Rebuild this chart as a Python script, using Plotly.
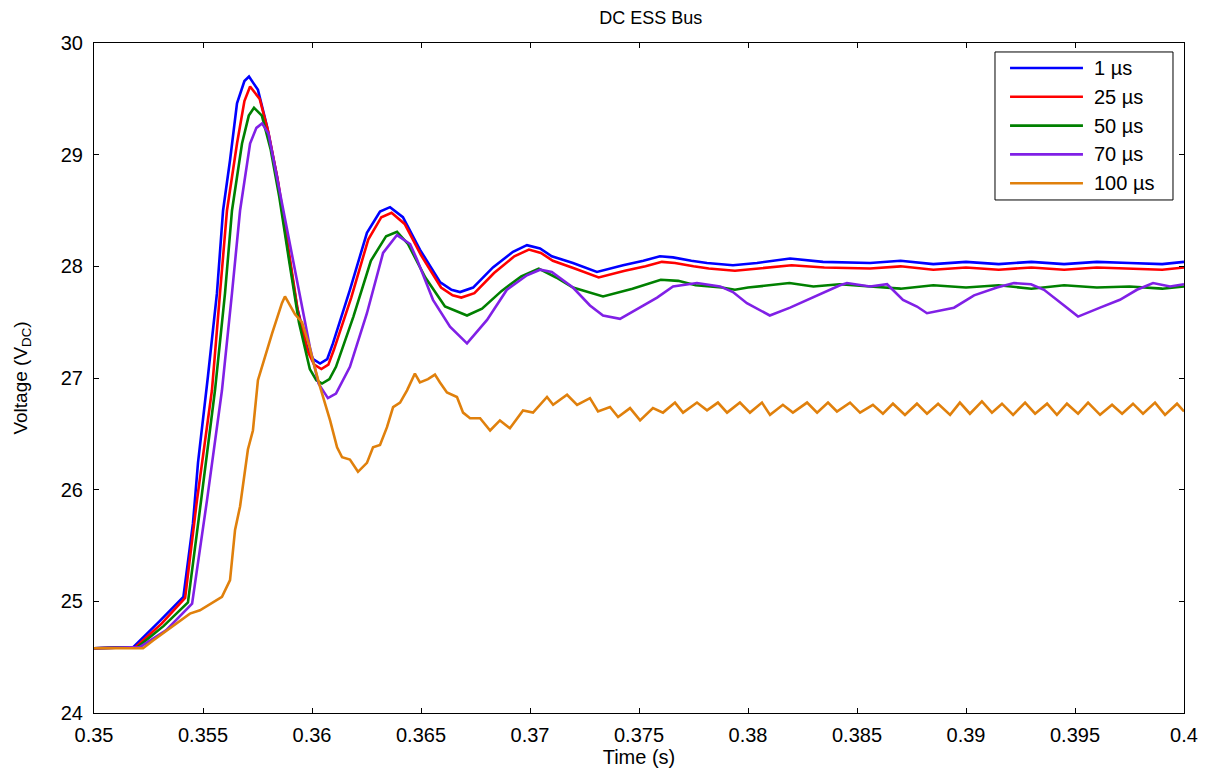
import plotly.graph_objects as go

# ---- DC ESS bus voltage response for different simulation time steps ----
series_names = ["1 µs", "25 µs", "50 µs", "70 µs", "100 µs"]
series_colors = ["#0000FF", "#FF0000", "#008000", "#8020E6", "#E0800C"]

t_1us = [0.3500, 0.3518, 0.3530, 0.3541, 0.35454, 0.35477, 0.35523, 0.35564, 0.35592,
         0.35624, 0.35656, 0.35690, 0.35711, 0.35752, 0.35794, 0.3584, 0.35885, 0.35931, 0.35977,
         0.36005, 0.36037, 0.36070, 0.36096, 0.36174, 0.36252, 0.36312, 0.36358, 0.36417, 0.36495,
         0.36587, 0.36640, 0.36679, 0.36739, 0.3683, 0.36922, 0.36986, 0.37046, 0.37100, 0.37197,
         0.37307, 0.37427, 0.37520, 0.37596, 0.37656, 0.37740, 0.37812, 0.37931, 0.38041, 0.38193,
         0.38344, 0.3856, 0.3870, 0.3885, 0.3900, 0.3915, 0.3930, 0.3945, 0.3960, 0.3975,
         0.3990, 0.4000]
v_1us = [24.58, 24.59, 24.82, 25.04, 25.70, 26.24, 27.02, 27.76, 28.50,
         28.95, 29.46, 29.66, 29.70, 29.58, 29.25, 28.80, 28.21, 27.64, 27.28,
         27.17, 27.13, 27.17, 27.31, 27.79, 28.30, 28.49, 28.53, 28.44, 28.15,
         27.86, 27.79, 27.77, 27.81, 27.99, 28.13, 28.19, 28.16, 28.09, 28.03,
         27.95, 28.01, 28.05, 28.09, 28.08, 28.05, 28.03, 28.01, 28.03, 28.07,
         28.04, 28.03, 28.05, 28.02, 28.04, 28.02, 28.04, 28.02, 28.04, 28.03,
         28.02, 28.04]

t_25us = [0.3500, 0.3519, 0.3531, 0.35418, 0.35472, 0.35541, 0.35578, 0.35610,
          0.35656, 0.35690, 0.35716, 0.35760, 0.35800, 0.35845, 0.35890, 0.35935, 0.35980,
          0.36010, 0.36043, 0.36075, 0.36100, 0.36180, 0.36258, 0.36318, 0.36365, 0.36425, 0.36500,
          0.36592, 0.36645, 0.36685, 0.36745, 0.36835, 0.36928, 0.36995, 0.37050, 0.37105, 0.37205,
          0.37315, 0.37435, 0.37530, 0.37605, 0.37665, 0.37750, 0.37820, 0.37940, 0.38050, 0.38200,
          0.38350, 0.38560, 0.3870, 0.3885, 0.3900, 0.3915, 0.3930, 0.3945, 0.3960, 0.3975,
          0.3990, 0.4000]
v_25us = [24.58, 24.59, 24.80, 25.03, 25.90, 26.89, 27.76, 28.50,
          29.10, 29.48, 29.61, 29.50, 29.20, 28.75, 28.18, 27.60, 27.24,
          27.12, 27.08, 27.12, 27.25, 27.72, 28.24, 28.44, 28.48, 28.38, 28.10,
          27.81, 27.74, 27.72, 27.76, 27.94, 28.09, 28.15, 28.12, 28.05, 27.98,
          27.90, 27.96, 28.00, 28.04, 28.03, 28.00, 27.98, 27.96, 27.98, 28.01,
          27.99, 27.98, 28.00, 27.97, 27.99, 27.97, 27.99, 27.97, 27.99, 27.98,
          27.97, 27.99]

t_50us = [0.3500, 0.3520, 0.3532, 0.35431, 0.35491, 0.35555, 0.35601, 0.35633,
          0.35679, 0.35710, 0.35734, 0.35770, 0.35810, 0.35850, 0.35895, 0.35940, 0.35990, 0.36020,
          0.36046, 0.36080, 0.36110, 0.36190, 0.36270, 0.36340, 0.36390, 0.36440, 0.36520, 0.36610,
          0.36711, 0.36780, 0.36870, 0.36960, 0.37040, 0.37120, 0.37197, 0.37335, 0.37470, 0.37600,
          0.37680, 0.37760, 0.37880, 0.37940, 0.38000, 0.38190, 0.38300, 0.38420, 0.38560, 0.3870,
          0.3885, 0.3900, 0.3915, 0.3930, 0.3945, 0.3960, 0.3975, 0.3990, 0.4000]
v_50us = [24.58, 24.59, 24.78, 24.99, 25.90, 26.89, 27.76, 28.50,
          29.10, 29.35, 29.42, 29.35, 29.05, 28.62, 28.05, 27.50, 27.08, 26.98,
          26.95, 26.99, 27.10, 27.55, 28.05, 28.27, 28.31, 28.20, 27.90, 27.64,
          27.56, 27.62, 27.78, 27.91, 27.98, 27.90, 27.81, 27.73, 27.80, 27.88,
          27.87, 27.83, 27.81, 27.79, 27.81, 27.85, 27.82, 27.84, 27.82, 27.80,
          27.83, 27.81, 27.83, 27.80, 27.83, 27.81, 27.82, 27.80, 27.82]

t_70us = [0.3500, 0.3521, 0.3533, 0.3545, 0.35518, 0.35587, 0.35633, 0.35670,
          0.35716, 0.35745, 0.35771, 0.35800, 0.35853, 0.35913, 0.35959, 0.35990, 0.36030, 0.36073,
          0.36110, 0.36174, 0.36252, 0.36326, 0.36390, 0.36450, 0.36482, 0.36555, 0.36633, 0.36711,
          0.36803, 0.36894, 0.36986, 0.37046, 0.37100, 0.37197, 0.37275, 0.37335, 0.37413, 0.37505,
          0.37583, 0.37656, 0.37766, 0.37872, 0.37931, 0.37995, 0.38100, 0.38193, 0.38317, 0.38422,
          0.38454, 0.38560, 0.38638, 0.38711, 0.38775, 0.38821, 0.38945, 0.39037, 0.39142, 0.39220,
          0.39298, 0.39358, 0.39450, 0.39514, 0.39615, 0.39706, 0.39784, 0.39858, 0.39936, 0.40000]
v_70us = [24.58, 24.59, 24.74, 24.98, 25.90, 26.89, 27.76, 28.50,
          29.10, 29.24, 29.28, 29.19, 28.66, 28.06, 27.58, 27.28, 26.95, 26.82,
          26.86, 27.10, 27.58, 28.12, 28.28, 28.20, 28.06, 27.70, 27.46, 27.31,
          27.52, 27.79, 27.92, 27.97, 27.95, 27.81, 27.65, 27.56, 27.53, 27.63,
          27.72, 27.82, 27.85, 27.82, 27.77, 27.67, 27.56, 27.63, 27.74, 27.83,
          27.85, 27.82, 27.84, 27.70, 27.64, 27.58, 27.63, 27.74, 27.81, 27.85,
          27.84, 27.79, 27.65, 27.55, 27.63, 27.70, 27.79, 27.85, 27.82, 27.84]

t_100us = [0.3500, 0.35225, 0.35271, 0.35381, 0.35440, 0.35486, 0.35546, 0.35587, 0.35624, 0.35647,
           0.35670, 0.35706, 0.35729, 0.35752, 0.35817, 0.35862, 0.35876, 0.35922, 0.35954, 0.35986,
           0.36005, 0.36037, 0.36083, 0.36115, 0.36138, 0.36174, 0.36211, 0.36252, 0.36280, 0.36312,
           0.36344, 0.36372, 0.36404, 0.36436, 0.36472, 0.36495, 0.36532, 0.36564, 0.36587, 0.36619,
           0.36665, 0.36693, 0.36725, 0.36771, 0.36817, 0.36862, 0.36908, 0.36968, 0.37014, 0.37078,
           0.37106, 0.37170, 0.37216, 0.37275, 0.37312, 0.37367, 0.37404, 0.37459, 0.37505, 0.37564,
           0.37610, 0.37665, 0.37702, 0.37766, 0.37812, 0.37862, 0.37904, 0.37963, 0.38009, 0.38064,
           0.38101, 0.38160, 0.38206, 0.38271, 0.38317, 0.38367, 0.38408, 0.38468, 0.38514, 0.38573,
           0.38619, 0.38665, 0.38720, 0.38775, 0.38821, 0.38872, 0.38927, 0.38972, 0.39018, 0.39073,
           0.39119, 0.39165, 0.39216, 0.39271, 0.39317, 0.39372, 0.39417, 0.39463, 0.39514, 0.39560,
           0.39615, 0.39670, 0.39716, 0.39766, 0.39812, 0.39867, 0.39913, 0.39968, 0.40000]
v_100us = [24.58, 24.58, 24.65, 24.81, 24.89, 24.92, 24.99, 25.04, 25.19, 25.64,
           25.85, 26.36, 26.53, 26.98, 27.40, 27.67, 27.73, 27.57, 27.50, 27.30,
           27.15, 26.92, 26.62, 26.38, 26.29, 26.27, 26.16, 26.24, 26.38, 26.40,
           26.56, 26.74, 26.78, 26.89, 27.04, 26.96, 26.99, 27.03, 26.96, 26.87,
           26.83, 26.69, 26.64, 26.64, 26.53, 26.62, 26.55, 26.71, 26.69, 26.83,
           26.76, 26.85, 26.76, 26.82, 26.70, 26.74, 26.65, 26.73, 26.62, 26.73,
           26.69, 26.78, 26.69, 26.78, 26.71, 26.78, 26.69, 26.78, 26.69, 26.78,
           26.67, 26.76, 26.69, 26.78, 26.69, 26.78, 26.70, 26.78, 26.69, 26.76,
           26.68, 26.77, 26.67, 26.77, 26.68, 26.77, 26.67, 26.78, 26.68, 26.79,
           26.69, 26.77, 26.67, 26.78, 26.68, 26.77, 26.67, 26.77, 26.68, 26.78,
           26.67, 26.76, 26.68, 26.77, 26.68, 26.78, 26.67, 26.77, 26.70]

x_tick_vals = [0.35, 0.355, 0.36, 0.365, 0.37, 0.375, 0.38, 0.385, 0.39, 0.395, 0.4]
x_tick_text = ["0.35", "0.355", "0.36", "0.365", "0.37", "0.375", "0.38", "0.385", "0.39", "0.395", "0.4"]
y_tick_vals = [24, 25, 26, 27, 28, 29, 30]

all_t = [t_1us, t_25us, t_50us, t_70us, t_100us]
all_v = [v_1us, v_25us, v_50us, v_70us, v_100us]

FONT = "Liberation Sans, Arial, sans-serif"

fig = go.Figure()
for name, color, tt, vv in zip(series_names, series_colors, all_t, all_v):
    fig.add_trace(go.Scatter(x=tt, y=vv, mode="lines", name=name,
                             line=dict(color=color, width=2.6), showlegend=False))

axis_common = dict(showline=True, linecolor="black", linewidth=1, mirror="ticks",
                   ticks="inside", ticklen=5, tickcolor="black", showgrid=False,
                   zeroline=False, automargin=False,
                   tickfont=dict(family=FONT, size=20, color="black"))

fig.update_layout(
    width=1205, height=768,
    margin=dict(l=94, r=21, t=43, b=55),
    paper_bgcolor="white", plot_bgcolor="white",
    title=dict(text="DC ESS Bus", x=0.540, xanchor="center", y=0.977, yanchor="middle",
               yref="container", font=dict(family=FONT, size=18, color="black")),
    xaxis=dict(range=[0.35, 0.4], tickvals=x_tick_vals, ticktext=x_tick_text,
               ticklabelstandoff=4,
               title=dict(text="Time (s)", standoff=6,
                          font=dict(family=FONT, size=20, color="black")),
               **axis_common),
    yaxis=dict(range=[24, 30], tickvals=y_tick_vals, ticklabelstandoff=6,
               title=dict(text="Voltage (V<sub>DC</sub>)", standoff=28,
                          font=dict(family=FONT, size=19, color="black")),
               **axis_common),
)

# Boxed legend in the upper-right corner with long line samples
box_x0, box_x1, box_y0, box_y1 = 0.8266, 0.9899, 0.7657, 0.9866
fig.add_shape(type="rect", xref="paper", yref="paper", x0=box_x0, x1=box_x1,
              y0=box_y0, y1=box_y1, line=dict(color="black", width=1),
              fillcolor="white", layer="above")
row_top, row_step = 0.9627, 0.0430
for i, (name, color) in enumerate(zip(series_names, series_colors)):
    yy = row_top - i * row_step
    fig.add_shape(type="line", xref="paper", yref="paper", x0=0.8404, x1=0.9073,
                  y0=yy, y1=yy, line=dict(color=color, width=2.6), layer="above")
    fig.add_annotation(xref="paper", yref="paper", x=0.9156, y=yy, text=name,
                       showarrow=False, xanchor="left", yanchor="middle",
                       font=dict(family=FONT, size=20, color="black"))

fig.write_html("out.html")
